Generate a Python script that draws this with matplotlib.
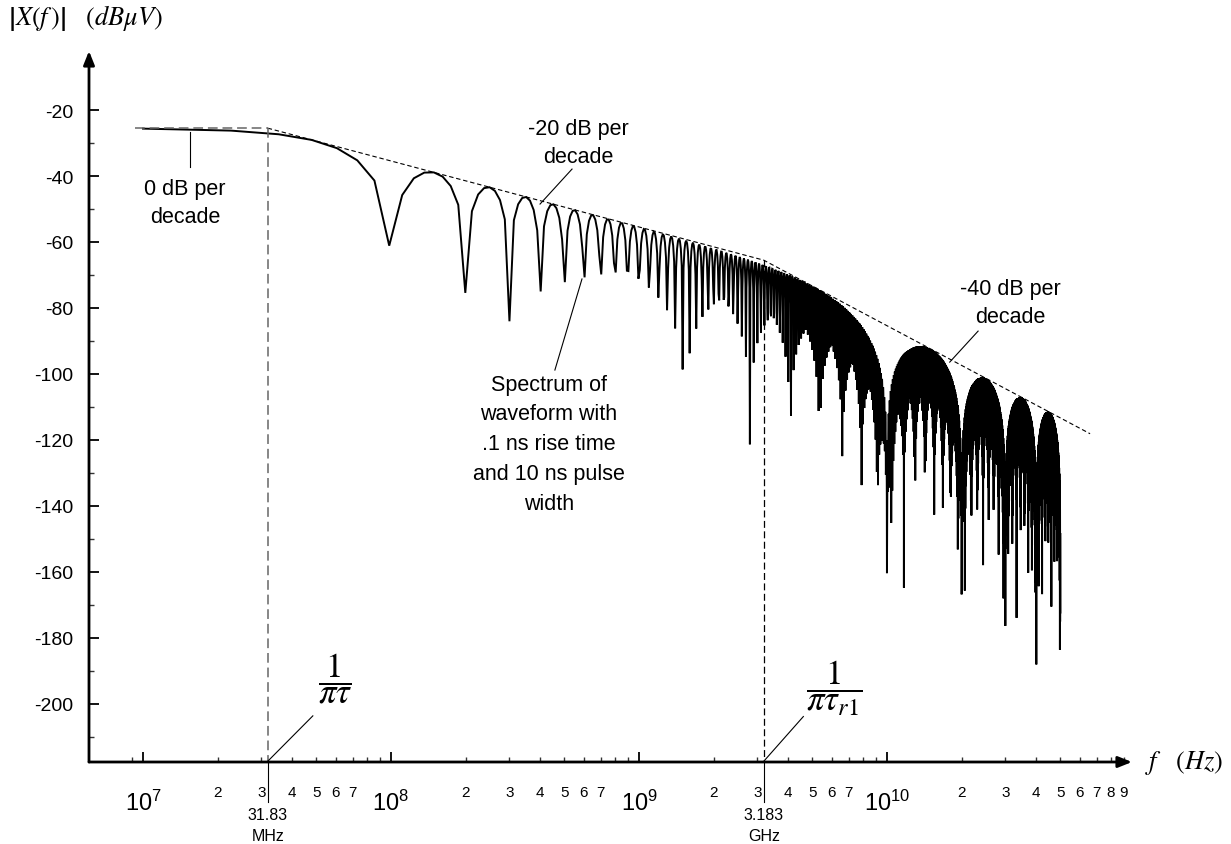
import numpy as np
import matplotlib
matplotlib.use("Agg")
import matplotlib.pyplot as plt
from matplotlib.ticker import FixedLocator, FixedFormatter, NullFormatter

plt.rcParams["font.family"] = ["Liberation Sans", "DejaVu Sans"]
plt.rcParams["axes.unicode_minus"] = False
plt.rcParams["lines.scale_dashes"] = False

# ---------------- data ----------------
PULSE_WIDTH = 10e-9        # s  (10 ns pulse width, from annotation)
RISE_TIME = 0.1e-9         # s  (.1 ns rise time, from annotation)
LOW_FREQ_LEVEL = -25.5     # dBuV, flat level
F_START = 10e6             # first plotted frequency (Hz)
F_STEP = 12.6242e6         # frequency step of the plotted trace (Hz)
F_STOP = 49.99e9           # last plotted frequency (Hz)

flat_f = [9.29e6, 31.83e6]
flat_db = [-25.5, -25.5]
slope_f = [31.83e6, 3.183e9, 6.59e10]
slope_db = [-25.5, -65.5, -118.1]

corner_freqs = [31.83e6, 3.183e9]
corner_db = [-25.5, -65.5]
corner_labels = ["31.83\nMHz", "3.183\nGHz"]

y_major = [-20, -40, -60, -80, -100, -120, -140, -160, -180, -200]
y_major_labels = ["-20", "-40", "-60", "-80", "-100", "-120", "-140", "-160", "-180", "-200"]
y_minor = [-30, -50, -70, -90, -110, -130, -150, -170, -190, -210]

x_major = [1e7, 1e8, 1e9, 1e10]
x_major_labels = [r"$\mathregular{10^{7}}$", r"$\mathregular{10^{8}}$",
                  r"$\mathregular{10^{9}}$", r"$\mathregular{10^{10}}$"]
x_minor = [9e6] + [m * d for d in [1e7, 1e8, 1e9, 1e10] for m in range(2, 10)]
x_minor_label_vals = ([m * 1e7 for m in range(2, 8)] + [m * 1e8 for m in range(2, 8)]
                      + [m * 1e9 for m in range(2, 8)] + [m * 1e10 for m in range(2, 10)])
x_minor_label_text = ([str(m) for m in range(2, 8)] * 3) + [str(m) for m in range(2, 10)]

# ---------------- spectrum trace (trapezoidal pulse) ----------------
freq = np.arange(F_START, F_STOP, F_STEP)
mag = np.abs(np.sinc(freq * PULSE_WIDTH) * np.sinc(freq * RISE_TIME))
spec_db = LOW_FREQ_LEVEL + 20 * np.log10(np.maximum(mag, 1e-30))

# ---------------- figure ----------------
W, H = 1231, 845
fig = plt.figure(figsize=(W / 100, H / 100), dpi=100)
ax = fig.add_axes([89 / W, 1 - 763 / H, (1132 - 89) / W, (763 - 52) / H])
ax.set_xscale("log")
ax.set_xlim(10 ** 6.7823, 10 ** 10.9879)
ax.set_ylim(-217.58, -2.12)
for s in ax.spines.values():
    s.set_visible(False)

arrow = dict(arrowstyle="-|>,head_length=0.55,head_width=0.22", lw=2.0, color="k",
             mutation_scale=15, shrinkA=0, shrinkB=0)
ax.annotate("", xy=(1, 0), xytext=(0, 0), xycoords="axes fraction", arrowprops=arrow)
ax.annotate("", xy=(0, 1), xytext=(0, 0), xycoords="axes fraction", arrowprops=arrow)

ax.yaxis.set_major_locator(FixedLocator(y_major))
ax.yaxis.set_major_formatter(FixedFormatter(y_major_labels))
ax.yaxis.set_minor_locator(FixedLocator(y_minor))
ax.yaxis.set_minor_formatter(NullFormatter())
ax.xaxis.set_major_locator(FixedLocator(x_major))
ax.xaxis.set_minor_locator(FixedLocator(x_minor))
ax.xaxis.set_major_formatter(NullFormatter())
ax.xaxis.set_minor_formatter(NullFormatter())
ax.tick_params(which="major", direction="in", length=7, width=1.3, color="k")
ax.tick_params(which="minor", direction="in", length=3.5, width=1.0, color="#333333")
ax.tick_params(axis="y", labelsize=14, pad=11)
ax.tick_params(axis="x", labelbottom=False)

xt = ax.get_xaxis_transform()
for v, lab in zip(x_major, x_major_labels):
    ax.text(v, -0.0675, lab, transform=xt, ha="center", va="baseline", fontsize=17)
for v, lab in zip(x_minor_label_vals, x_minor_label_text):
    ax.text(v, -0.0478, lab, transform=xt, ha="center", va="baseline", fontsize=11)

ax.plot(freq, spec_db, color="k", lw=1.4, solid_joinstyle="miter")

ax.plot(flat_f, flat_db, color="#666666", lw=1.1, ls=(0, (7, 3.5)))
ax.plot(slope_f, slope_db, color="k", lw=0.8, ls=(0, (3.2, 2.0)))

ax.plot([corner_freqs[0]] * 2, [corner_db[0], -217.58], color="#666666", lw=1.1,
        ls=(0, (7, 3.5)))
ax.plot([corner_freqs[1]] * 2, [corner_db[1], -217.58], color="k", lw=0.9,
        ls=(0, (5, 2.5)))
for cf, lab in zip(corner_freqs, corner_labels):
    top, bot = lab.split("\n")
    ax.plot([cf, cf], [-217.58, -229.7], color="k", lw=0.8, clip_on=False)
    ax.text(cf, -0.0802, top, transform=xt, ha="center", va="baseline", fontsize=11.5)
    ax.text(cf, -0.1097, bot, transform=xt, ha="center", va="baseline", fontsize=11.5)

ann = dict(ha="center", va="center", fontsize=15.5, linespacing=1.4)
ax.text(1.477e7, -48.0, "0 dB per\ndecade", **ann)
ax.plot([1.547e7, 1.547e7], [-26.7, -37.3], color="k", lw=0.8)

ax.text(5.68e8, -29.8, "-20 dB per\ndecade", **ann)
ax.plot([3.99e8, 5.37e8], [-48.5, -37.9], color="k", lw=0.8)

ax.text(4.34e8, -121.1, "Spectrum of\nwaveform with\n.1 ns rise time\nand 10 ns pulse\nwidth",
        ha="center", va="center", fontsize=15.5, linespacing=1.55)
ax.plot([4.58e8, 5.89e8], [-98.8, -71.2], color="k", lw=0.8)

ax.text(3.13e10, -78.3, "-40 dB per\ndecade", **ann)
ax.plot([1.79e10, 2.33e10], [-96.4, -87.0], color="k", lw=0.8)

ax.text(5.94e7, -192.0, r"$\dfrac{1}{\pi\tau}$", math_fontfamily="stix", fontsize=25,
        ha="center", va="center")
ax.plot([3.19e7, 4.84e7], [-217.3, -203.6], color="k", lw=0.8)

ax.text(6.17e9, -195.0, r"$\dfrac{1}{\pi\tau_{r1}}$", math_fontfamily="stix", fontsize=25,
        ha="center", va="center")
ax.plot([3.19e9, 4.6e9], [-217.3, -203.8], color="k", lw=0.8)

fig.text(8 / W, 1 - 18 / H, r"$\left|X(f\,)\right|\ \ \ (dB\mu V)$", math_fontfamily="stix",
         fontsize=19, va="center", ha="left")
fig.text(1145 / W, 1 - 763 / H, r"$f\ \ \ (Hz)$", math_fontfamily="stix", fontsize=19,
         va="center", ha="left")

fig.savefig("out.png", dpi=100)
